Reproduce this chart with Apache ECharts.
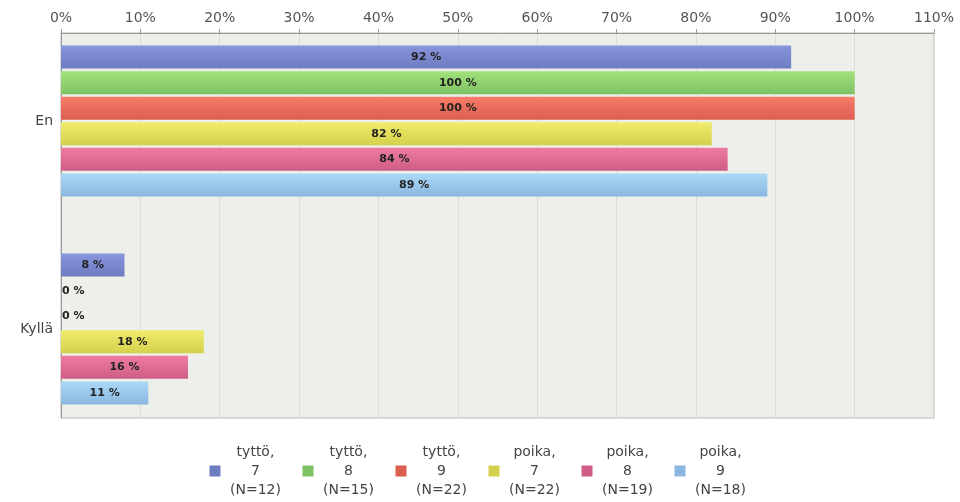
<!DOCTYPE html>
<html>
<head>
<meta charset="utf-8">
<script src="https://cdn.jsdelivr.net/npm/echarts@6/dist/echarts.min.js"></script>
<style>
  html, body { margin: 0; padding: 0; background: #fff; }
  #chart { width: 960px; height: 502px; }
</style>
</head>
<body>
<div id="chart"></div>
<script>
// answers (top to bottom)
const categories = ["En", "Kyllä"];

// series names, one per group
const seriesNames = [
  "tyttö, 7 (N=12)",
  "tyttö, 8 (N=15)",
  "tyttö, 9 (N=22)",
  "poika, 7 (N=22)",
  "poika, 8 (N=19)",
  "poika, 9 (N=18)"
];

// percentages per group: [En, Kyllä]
const tytto7 = [92, 8];
const tytto8 = [100, 0];
const tytto9 = [100, 0];
const poika7 = [82, 18];
const poika8 = [84, 16];
const poika9 = [89, 11];
const seriesValues = [tytto7, tytto8, tytto9, poika7, poika8, poika9];

// top / bottom colour of each bar gradient
const barColors = [
  ["#8995de", "#6d7bc0"],
  ["#a3e27c", "#7fc264"],
  ["#f97b69", "#dc5e4f"],
  ["#efeb6c", "#d5d14c"],
  ["#ee7ca2", "#cf5c86"],
  ["#aad9f8", "#89b7df"]
];

const chart = echarts.init(document.getElementById("chart"));

const series = seriesValues.map((vals, i) => ({
  name: seriesNames[i],
  type: "bar",
  xAxisIndex: 1,
  yAxisIndex: 1,
  barCategoryGap: "27.5%",
  barGap: "11%",
  itemStyle: {
    color: new echarts.graphic.LinearGradient(0, 0, 0, 1, [
      { offset: 0, color: barColors[i][0] },
      { offset: 1, color: barColors[i][1] }
    ])
  },
  label: {
    show: true,
    position: "inside",
    formatter: p => p.value + " %",
    fontFamily: "DejaVu Sans",
    fontSize: 11,
    fontWeight: "bold",
    color: "#222"
  },
  data: vals.map(v => v === 0
    ? { value: v, label: { position: "insideLeft", distance: 1 } }
    : v)
}));

chart.setOption({
  animation: false,
  textStyle: { fontFamily: "DejaVu Sans" },
  grid: [
    {
      // visible frame
      left: 61, right: 26, top: 33, bottom: 84,
      show: true,
      backgroundColor: "#edf0ea",
      borderColor: "#b8b8b8",
      borderWidth: 1
    },
    {
      // bar layout
      left: 61, right: 26, top: 17, bottom: 69
    }
  ],
  xAxis: [
    {
      type: "value",
      gridIndex: 0,
      position: "top",
      min: 0,
      max: 110,
      interval: 10,
      axisLine: { show: true, lineStyle: { color: "#999" } },
      axisTick: { show: true, length: 4, lineStyle: { color: "#999" } },
      splitLine: { show: true, lineStyle: { color: "#dcdfd8" } },
      axisLabel: {
        formatter: "{value}%",
        fontSize: 14,
        color: "#555",
        margin: 8
      }
    },
    {
      type: "value",
      gridIndex: 1,
      min: 0,
      max: 110,
      interval: 10,
      show: false
    }
  ],
  yAxis: [
    {
      type: "category",
      gridIndex: 0,
      inverse: true,
      data: categories,
      axisLine: { show: true, lineStyle: { color: "#999" } },
      axisTick: { show: false },
      axisLabel: { show: false }
    },
    {
      type: "category",
      gridIndex: 1,
      inverse: true,
      data: categories,
      axisLine: { show: false },
      axisTick: { show: false },
      axisLabel: { fontSize: 14, color: "#444", margin: 8 }
    }
  ],
  legend: {
    bottom: 0,
    left: "center",
    itemWidth: 11,
    itemHeight: 11,
    itemGap: 17,
    icon: "rect",
    formatter: name => {
      const m = name.match(/^(\S+) (\S+) (\S+)$/);
      return "{t|" + m[1] + "}\n{t|" + m[2] + "}\n{t|" + m[3] + "}";
    },
    textStyle: {
      rich: {
        t: { width: 60, align: "center", fontSize: 14, lineHeight: 19, color: "#444" }
      }
    },
    data: seriesNames.map((n, i) => ({ name: n, itemStyle: { color: barColors[i][1] } }))
  },
  series: series
});

window.addEventListener("resize", () => chart.resize());
</script>
</body>
</html>
